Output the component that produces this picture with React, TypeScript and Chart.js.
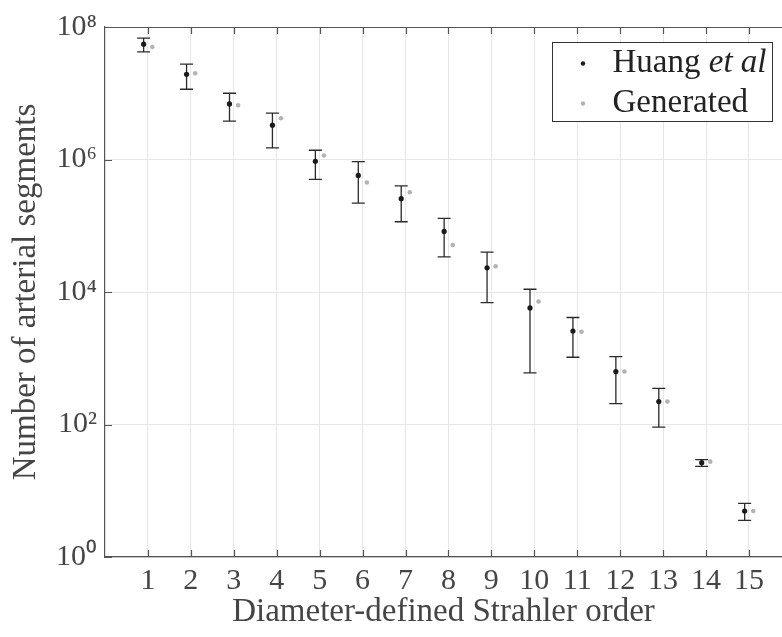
import React, { useEffect, useRef } from 'react';
import { Chart, registerables } from 'chart.js';

Chart.register(...registerables);

const orders = [1, 2, 3, 4, 5, 6, 7, 8, 9, 10, 11, 12, 13, 14, 15];
const huangValues = [5.5e7, 1.93e7, 6.9e6, 3.3e6, 9.4e5, 5.75e5, 2.56e5, 8.2e4, 2.32e4, 5750, 2570, 630, 222, 26.5, 4.95];
const huangLower = [4.2e7, 1.15e7, 3.8e6, 1.5e6, 5.0e5, 2.2e5, 1.15e5, 3.4e4, 6900, 600, 1035, 207, 91, 23.4, 3.57];
const huangUpper = [6.8e7, 2.75e7, 1.0e7, 5.0e6, 1.38e6, 9.3e5, 4.0e5, 1.29e5, 4.0e4, 1.1e4, 4120, 1060, 352, 29.5, 6.46];
const generatedValues = [5.0e7, 2.0e7, 6.6e6, 4.2e6, 1.15e6, 4.5e5, 3.2e5, 5.1e4, 2.45e4, 7200, 2510, 630, 222, 27.5, 4.95];
const yTickValues = [1, 1e2, 1e4, 1e6, 1e8];
const yTickLabels = ['10⁰', '10²', '10⁴', '10⁶', '10⁸'];
const xTickLabels = orders.map((o) => String(o));
const seriesNames = ['Huang', 'Generated'];

const HUANG_SHIFT = -0.1;
const GEN_SHIFT = 0.1;
const FONT = "'Liberation Serif', 'Times New Roman', serif";
const TEXT_COLOR = '#454545';
const AXIS_COLOR = '#555';

const decorPlugin = {
  id: 'decor',
  beforeDatasetsDraw(chart: any) {
    const ctx = chart.ctx;
    const xs = chart.scales.x;
    const ys = chart.scales.y;
    ctx.save();
    ctx.strokeStyle = '#2a2a2a';
    ctx.lineWidth = 1.3;
    const cap = 6.5;
    orders.forEach((o, i) => {
      const x = xs.getPixelForValue(o + HUANG_SHIFT);
      const yl = ys.getPixelForValue(huangLower[i]);
      const yh = ys.getPixelForValue(huangUpper[i]);
      ctx.beginPath();
      ctx.moveTo(x, yl);
      ctx.lineTo(x, yh);
      ctx.moveTo(x - cap, yl);
      ctx.lineTo(x + cap, yl);
      ctx.moveTo(x - cap, yh);
      ctx.lineTo(x + cap, yh);
      ctx.stroke();
    });
    ctx.restore();
  },
  afterDraw(chart: any) {
    const ctx = chart.ctx;
    const area = chart.chartArea;
    const xs = chart.scales.x;
    const ys = chart.scales.y;
    ctx.save();
    ctx.strokeStyle = AXIS_COLOR;
    ctx.lineWidth = 1.2;
    ctx.beginPath();
    ctx.moveTo(area.left, area.top + 0.5);
    ctx.lineTo(area.right, area.top + 0.5);
    ctx.stroke();
    const tl = 7;
    ctx.beginPath();
    orders.forEach((o) => {
      const x = Math.round(xs.getPixelForValue(o)) + 0.5;
      ctx.moveTo(x, area.bottom);
      ctx.lineTo(x, area.bottom - tl);
      ctx.moveTo(x, area.top);
      ctx.lineTo(x, area.top + tl);
    });
    yTickValues.forEach((v) => {
      const y = Math.round(ys.getPixelForValue(v)) + 0.5;
      ctx.moveTo(area.left, y);
      ctx.lineTo(area.left + tl, y);
    });
    ctx.stroke();

    // legend box
    const bx = area.right - 229.5;
    const by = area.top + 15.5;
    const bw = 220;
    const bh = 79;
    ctx.fillStyle = '#fff';
    ctx.fillRect(bx, by, bw, bh);
    ctx.strokeStyle = '#333';
    ctx.lineWidth = 1;
    ctx.strokeRect(bx, by, bw, bh);
    const dotX = bx + 30.5;
    const textX = bx + 60;
    const row1 = by + 21;
    const row2 = by + 61;
    ctx.fillStyle = '#1a1a1a';
    ctx.beginPath();
    ctx.arc(dotX, row1, 2.2, 0, Math.PI * 2);
    ctx.fill();
    ctx.fillStyle = '#b3b3b3';
    ctx.beginPath();
    ctx.arc(dotX, row2, 2.2, 0, Math.PI * 2);
    ctx.fill();
    ctx.fillStyle = '#222';
    ctx.textBaseline = 'middle';
    ctx.textAlign = 'left';
    ctx.font = `33px ${FONT}`;
    const first = seriesNames[0] + ' ';
    ctx.fillText(first, textX, row1);
    const w = ctx.measureText(first).width;
    ctx.font = `italic 33px ${FONT}`;
    ctx.fillText('et al', textX + w, row1);
    ctx.font = `33px ${FONT}`;
    ctx.fillText(seriesNames[1], textX, row2);
    ctx.restore();
  },
};

export default function App() {
  const ref = useRef<HTMLCanvasElement | null>(null);
  useEffect(() => {
    if (!ref.current) return;
    const chart = new Chart(ref.current, {
      type: 'scatter',
      data: {
        datasets: [
          {
            label: seriesNames[0],
            data: orders.map((o, i) => ({ x: o + HUANG_SHIFT, y: huangValues[i] })),
            backgroundColor: '#1a1a1a',
            borderWidth: 0,
            pointRadius: 2.6,
            pointHoverRadius: 2.6,
            order: 1,
          },
          {
            label: seriesNames[1],
            data: orders.map((o, i) => ({ x: o + GEN_SHIFT, y: generatedValues[i] })),
            backgroundColor: '#b3b3b3',
            borderWidth: 0,
            pointRadius: 2.3,
            pointHoverRadius: 2.3,
            order: 2,
          },
        ],
      },
      options: {
        responsive: false,
        maintainAspectRatio: false,
        animation: false,
        events: [],
        layout: { autoPadding: false, padding: { top: 27, right: 0, left: 0, bottom: 0 } },
        plugins: {
          legend: { display: false },
          tooltip: { enabled: false },
        },
        scales: {
          x: {
            type: 'linear',
            min: 0,
            max: 15.77,
            afterBuildTicks: (scale: any) => {
              scale.ticks = orders.map((o) => ({ value: o }));
            },
            afterFit: (scale: any) => {
              scale.height = 80;
              scale.paddingLeft = 0;
              scale.paddingRight = 0;
            },
            ticks: {
              autoSkip: false,
              maxRotation: 0,
              padding: 6,
              color: TEXT_COLOR,
              font: { family: FONT, size: 30 },
              callback: (v: any) => {
                const idx = orders.indexOf(Number(v));
                return idx >= 0 ? xTickLabels[idx] : '';
              },
            },
            grid: { color: '#e6e6e6', lineWidth: 1, drawTicks: false },
            border: { display: true, color: AXIS_COLOR, width: 1.2 },
            title: {
              display: true,
              text: 'Diameter-defined Strahler order',
              color: TEXT_COLOR,
              font: { family: FONT, size: 33 },
              padding: { top: 0, bottom: 5 },
            },
          },
          y: {
            type: 'logarithmic',
            min: 1,
            max: 1e8,
            afterBuildTicks: (scale: any) => {
              scale.ticks = yTickValues.map((v) => ({ value: v }));
            },
            afterFit: (scale: any) => {
              scale.width = 105;
              scale.paddingTop = 0;
              scale.paddingBottom = 0;
            },
            ticks: {
              autoSkip: false,
              padding: 8,
              color: TEXT_COLOR,
              font: { family: FONT, size: 30 },
              callback: (v: any) => {
                const idx = yTickValues.indexOf(Number(v));
                return idx >= 0 ? yTickLabels[idx] : '';
              },
            },
            grid: { color: '#e6e6e6', lineWidth: 1, drawTicks: false },
            border: { display: true, color: AXIS_COLOR, width: 1.2 },
            title: {
              display: true,
              text: 'Number of arterial segments',
              color: TEXT_COLOR,
              font: { family: FONT, size: 33 },
              padding: { top: 7, bottom: 0 },
            },
          },
        },
      },
      plugins: [decorPlugin],
    } as any);
    return () => chart.destroy();
  }, []);
  return (
    <div style={{ position: 'absolute', left: 0, top: 0, width: 782, height: 637, background: '#fff' }}>
      <canvas ref={ref} width={782} height={637} style={{ display: 'block' }} />
    </div>
  );
}
